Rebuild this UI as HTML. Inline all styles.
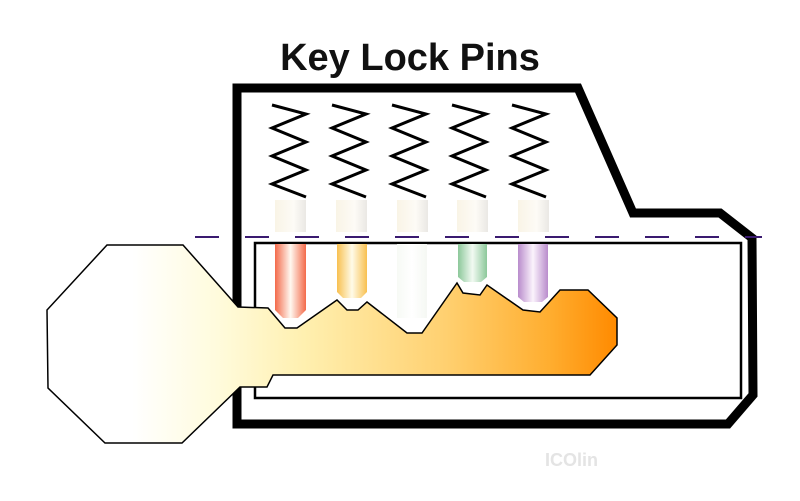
<!DOCTYPE html>
<html><head><meta charset="utf-8"><style>
html,body{margin:0;padding:0;background:#fff;width:800px;height:501px;overflow:hidden}
</style></head><body>
<svg width="800" height="501" viewBox="0 0 800 501" xmlns="http://www.w3.org/2000/svg">
<defs>
<linearGradient id="kg" x1="47" x2="617" y1="0" y2="0" gradientUnits="userSpaceOnUse">
<stop offset="0" stop-color="#ffffff"/>
<stop offset="0.15" stop-color="#ffffff"/>
<stop offset="0.3" stop-color="#fffbdc"/>
<stop offset="0.45" stop-color="#fff0b0"/>
<stop offset="0.7" stop-color="#ffd070"/>
<stop offset="0.88" stop-color="#ffae30"/>
<stop offset="1" stop-color="#ff8a00"/>
</linearGradient>
<linearGradient id="pr" x1="0" x2="1"><stop offset="0" stop-color="#f36a4a"/><stop offset="0.5" stop-color="#fff8f0"/><stop offset="1" stop-color="#f36a4a"/></linearGradient>
<linearGradient id="py" x1="0" x2="1"><stop offset="0" stop-color="#f8c050"/><stop offset="0.5" stop-color="#fffbe8"/><stop offset="1" stop-color="#f8c050"/></linearGradient>
<linearGradient id="pw" x1="0" x2="1"><stop offset="0" stop-color="#f7faf5"/><stop offset="0.5" stop-color="#ffffff"/><stop offset="1" stop-color="#f5f8f3"/></linearGradient>
<linearGradient id="pg" x1="0" x2="1"><stop offset="0" stop-color="#8cc89a"/><stop offset="0.5" stop-color="#f2faf2"/><stop offset="1" stop-color="#8cc89a"/></linearGradient>
<linearGradient id="pp" x1="0" x2="1"><stop offset="0" stop-color="#b98ccc"/><stop offset="0.5" stop-color="#fbf3fc"/><stop offset="1" stop-color="#b98ccc"/></linearGradient>
<linearGradient id="pc" x1="0" x2="1"><stop offset="0" stop-color="#f9f4e6"/><stop offset="0.6" stop-color="#fdfbf6"/><stop offset="1" stop-color="#eae8e4"/></linearGradient>
<g id="spring"><polyline points="272,105 306,114 272,128 306,142 272,156 306,170 272,184 306,197" fill="none" stroke="#000" stroke-width="3"/></g>
</defs>
<text x="410" y="70" text-anchor="middle" font-family="Liberation Sans, sans-serif" font-weight="bold" font-size="38" fill="#111">Key Lock Pins</text>
<path d="M237,88 L578,88 L633,213 L720,213 L752,238 L753,395 L728,424 L237,424 Z" fill="none" stroke="#000" stroke-width="9" stroke-linejoin="miter"/>
<rect x="255" y="243" width="486" height="155" fill="none" stroke="#000" stroke-width="2.5"/>
<line x1="195" y1="237" x2="762" y2="237" stroke="#3a1a70" stroke-width="2" stroke-dasharray="24,26"/>
<use href="#spring"/>
<use href="#spring" x="60"/>
<use href="#spring" x="120"/>
<use href="#spring" x="180"/>
<use href="#spring" x="240"/>
<rect x="275" y="200" width="31" height="32" fill="url(#pc)"/>
<rect x="336" y="200" width="31" height="32" fill="url(#pc)"/>
<rect x="397" y="200" width="31" height="32" fill="url(#pc)"/>
<rect x="457" y="200" width="31" height="32" fill="url(#pc)"/>
<rect x="518" y="200" width="31" height="32" fill="url(#pc)"/>
<polygon points="275,244 306,244 306,310 298,318 283,318 275,310" fill="url(#pr)"/>
<polygon points="337,244 367,244 367,292 361,298 343,298 337,292" fill="url(#py)"/>
<polygon points="397,244 427,244 427,318 397,318" fill="url(#pw)"/>
<polygon points="458,244 487,244 487,277 481,282 464,282 458,277" fill="url(#pg)"/>
<polygon points="518,244 548,244 548,297 542,302 524,302 518,297" fill="url(#pp)"/>
<path d="M107,245 L183,245 L238,307 L268,308 L285,328 L297,328 L337,300 L347,310 L358,310 L367,302 L407,333 L422,333 L457,283 L463,293 L480,295 L487,285 L523,310 L540,312 L560,290 L588,290 L617,318 L617,345 L590,375 L273,375 L267,387 L240,387 L182,443 L105,443 L48,388 L47,310 Z" fill="url(#kg)" stroke="#000" stroke-width="1.5" stroke-linejoin="miter"/>
<text x="545" y="466" font-family="Liberation Sans, sans-serif" font-weight="bold" font-size="18" fill="#e4e4e4">ICOlin</text>
</svg>
</body></html>
